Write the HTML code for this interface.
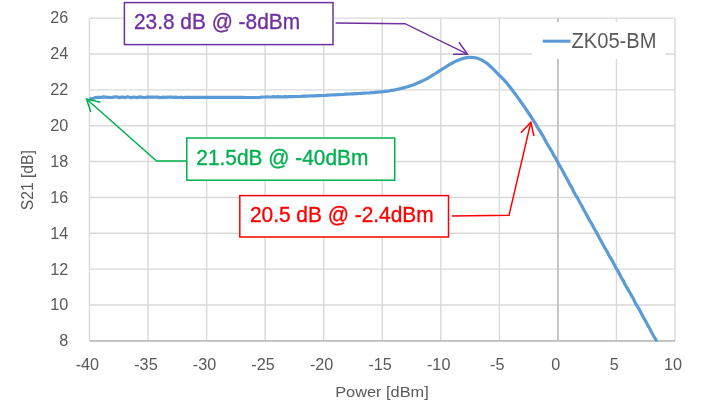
<!DOCTYPE html>
<html><head><meta charset="utf-8"><style>html,body{margin:0;padding:0;background:#fff;width:709px;height:417px;overflow:hidden}svg{display:block;will-change:transform}</style></head>
<body><svg width="709" height="417" viewBox="0 0 709 417"><rect x="0" y="0" width="709" height="417" fill="#fff"/><g stroke="#d9d9d9" stroke-width="1.4"><line x1="89.5" y1="340.90" x2="675.0" y2="340.90"/><line x1="89.5" y1="305.03" x2="675.0" y2="305.03"/><line x1="89.5" y1="269.17" x2="675.0" y2="269.17"/><line x1="89.5" y1="233.30" x2="675.0" y2="233.30"/><line x1="89.5" y1="197.43" x2="675.0" y2="197.43"/><line x1="89.5" y1="161.57" x2="675.0" y2="161.57"/><line x1="89.5" y1="125.70" x2="675.0" y2="125.70"/><line x1="89.5" y1="89.83" x2="675.0" y2="89.83"/><line x1="89.5" y1="53.97" x2="675.0" y2="53.97"/><line x1="89.5" y1="18.10" x2="675.0" y2="18.10"/><line x1="89.50" y1="18.1" x2="89.50" y2="340.9"/><line x1="148.05" y1="18.1" x2="148.05" y2="340.9"/><line x1="206.60" y1="18.1" x2="206.60" y2="340.9"/><line x1="265.15" y1="18.1" x2="265.15" y2="340.9"/><line x1="323.70" y1="18.1" x2="323.70" y2="340.9"/><line x1="382.25" y1="18.1" x2="382.25" y2="340.9"/><line x1="440.80" y1="18.1" x2="440.80" y2="340.9"/><line x1="499.35" y1="18.1" x2="499.35" y2="340.9"/><line x1="557.90" y1="18.1" x2="557.90" y2="340.9"/><line x1="616.45" y1="18.1" x2="616.45" y2="340.9"/><line x1="675.00" y1="18.1" x2="675.00" y2="340.9"/></g><line x1="557.90" y1="18.1" x2="557.90" y2="340.9" stroke="#bfbfbf" stroke-width="1.6"/><line x1="89.5" y1="340.9" x2="675.0" y2="340.9" stroke="#bfbfbf" stroke-width="1.6"/><g font-family="&quot;Liberation Sans&quot;, sans-serif" font-size="16.2" fill="#595959"><text x="68.3" y="346.30" text-anchor="end">8</text><text x="68.3" y="310.40" text-anchor="end">10</text><text x="68.3" y="274.50" text-anchor="end">12</text><text x="68.3" y="238.60" text-anchor="end">14</text><text x="68.3" y="202.70" text-anchor="end">16</text><text x="68.3" y="166.80" text-anchor="end">18</text><text x="68.3" y="130.90" text-anchor="end">20</text><text x="68.3" y="95.00" text-anchor="end">22</text><text x="68.3" y="59.10" text-anchor="end">24</text><text x="68.3" y="23.20" text-anchor="end">26</text><text x="87.40" y="370.3" text-anchor="middle">-40</text><text x="145.95" y="370.3" text-anchor="middle">-35</text><text x="204.50" y="370.3" text-anchor="middle">-30</text><text x="263.05" y="370.3" text-anchor="middle">-25</text><text x="321.60" y="370.3" text-anchor="middle">-20</text><text x="380.15" y="370.3" text-anchor="middle">-15</text><text x="438.70" y="370.3" text-anchor="middle">-10</text><text x="497.25" y="370.3" text-anchor="middle">-5</text><text x="555.80" y="370.3" text-anchor="middle">0</text><text x="614.35" y="370.3" text-anchor="middle">5</text><text x="672.90" y="370.3" text-anchor="middle">10</text></g><text font-family="&quot;Liberation Sans&quot;, sans-serif" font-size="14.8" fill="#595959" x="335.2" y="396.6" textLength="93.5" lengthAdjust="spacingAndGlyphs">Power [dBm]</text><text font-family="&quot;Liberation Sans&quot;, sans-serif" font-size="15.6" fill="#595959" transform="translate(33.2,210.2) rotate(-90)" x="0" y="0" textLength="60" lengthAdjust="spacingAndGlyphs">S21 [dB]</text><clipPath id="pc"><rect x="80" y="18.1" width="600" height="323.29999999999995"/></clipPath><path d="M89.5,99.2 L91.5,98.6 L93.5,98.2 L95.5,97.6 L97.5,97.4 L99.5,97.3 L101.5,97.3 L103.5,96.9 L105.5,97.1 L107.5,97.3 L109.5,97.4 L111.5,97.5 L113.5,97.1 L115.5,96.9 L117.5,97.0 L119.5,97.6 L121.5,97.0 L123.5,97.2 L125.5,97.6 L127.5,96.8 L129.5,97.3 L131.5,97.6 L133.5,97.0 L135.5,97.3 L137.5,97.6 L139.5,96.9 L141.5,97.2 L143.5,97.5 L145.5,97.4 L147.5,97.2 L149.5,97.0 L151.5,97.2 L153.5,97.1 L155.5,97.2 L157.5,97.1 L159.5,97.6 L161.5,97.5 L163.5,97.1 L165.5,97.3 L167.5,97.1 L169.5,97.2 L171.5,97.2 L173.5,97.4 L175.5,97.2 L177.5,97.3 L179.5,97.5 L181.5,97.2 L183.5,97.7 L185.5,97.3 L187.5,97.3 L189.5,97.3 L191.5,97.3 L193.5,97.3 L195.5,97.3 L197.5,97.3 L199.5,97.3 L201.5,97.3 L203.5,97.3 L205.5,97.4 L207.5,97.4 L209.5,97.4 L211.5,97.4 L213.5,97.4 L215.5,97.4 L217.5,97.4 L219.5,97.4 L221.5,97.4 L223.5,97.4 L225.5,97.4 L227.5,97.4 L229.5,97.4 L231.5,97.4 L233.5,97.4 L235.5,97.4 L237.5,97.4 L239.5,97.4 L241.5,97.4 L243.5,97.4 L245.5,97.5 L247.5,97.5 L249.5,97.5 L251.5,97.5 L253.5,97.5 L255.5,97.5 L257.5,97.5 L259.5,97.5 L261.5,97.1 L263.5,97.0 L265.5,97.0 L267.5,96.9 L269.5,97.0 L271.5,97.0 L273.5,96.6 L275.5,97.0 L277.5,96.7 L279.5,96.8 L281.5,96.9 L283.5,96.8 L285.5,96.6 L287.5,96.8 L289.5,96.5 L291.5,96.6 L293.5,96.7 L295.5,96.5 L297.5,96.5 L299.5,96.5 L301.5,96.3 L303.5,96.2 L305.5,96.1 L307.5,96.1 L309.5,96.0 L311.5,95.9 L313.5,95.9 L315.5,95.8 L317.5,95.7 L319.5,95.6 L321.5,95.6 L323.5,95.5 L325.5,95.4 L327.5,95.2 L329.5,95.1 L331.5,95.0 L333.5,94.9 L335.5,94.8 L337.5,94.7 L339.5,94.6 L341.5,94.5 L343.5,94.4 L345.5,94.2 L347.5,94.1 L349.5,94.0 L351.5,93.9 L353.5,93.8 L355.5,93.7 L357.5,93.6 L359.5,93.5 L361.5,93.3 L363.5,93.2 L365.5,93.1 L367.5,93.0 L369.5,92.9 L371.5,92.7 L373.5,92.6 L375.5,92.4 L377.5,92.2 L379.5,92.0 L381.5,91.8 L383.5,91.6 L385.5,91.3 L387.5,91.1 L389.5,90.8 L391.5,90.4 L393.5,90.1 L395.5,89.7 L397.5,89.3 L399.5,88.9 L401.5,88.4 L403.5,87.9 L405.5,87.3 L407.5,86.7 L409.5,86.1 L411.5,85.4 L413.5,84.7 L415.5,83.9 L417.5,83.1 L419.5,82.3 L421.5,81.3 L423.5,80.4 L425.5,79.4 L427.5,78.3 L429.5,77.1 L431.5,76.0 L433.5,74.7 L435.5,73.5 L437.5,72.2 L439.5,70.9 L441.5,69.6 L443.5,68.3 L445.5,67.1 L447.5,65.8 L449.5,64.6 L451.5,63.5 L453.5,62.4 L455.5,61.4 L457.5,60.5 L459.5,59.7 L461.5,59.0 L463.5,58.4 L465.5,57.9 L467.5,57.6 L469.5,57.4 L471.5,57.4 L473.5,57.5 L475.5,57.8 L477.5,58.3 L479.5,59.0 L481.5,59.9 L483.5,61.1 L485.5,62.3 L487.5,63.8 L489.5,65.5 L491.5,67.4 L493.5,69.3 L495.5,71.4 L497.5,73.5 L499.5,75.5 L501.5,77.4 L503.5,79.4 L505.5,81.6 L507.5,84.0 L509.5,86.5 L511.5,89.1 L513.5,91.7 L515.5,94.4 L517.5,97.1 L519.5,99.9 L521.5,102.7 L523.5,105.6 L525.5,108.5 L527.5,111.5 L529.5,114.5 L531.5,117.4 L533.5,120.8 L535.5,123.6 L537.5,127.4 L539.5,130.4 L541.5,133.7 L543.5,136.9 L545.5,140.7 L547.5,144.3 L549.5,147.6 L551.5,150.8 L553.5,154.8 L555.5,157.9 L557.5,161.9 L559.5,165.4 L561.5,168.8 L563.5,172.6 L565.5,176.3 L567.5,179.7 L569.5,183.8 L571.5,187.1 L573.5,191.2 L575.5,194.8 L577.5,197.9 L579.5,201.9 L581.5,205.3 L583.5,209.3 L585.5,212.8 L587.5,216.4 L589.5,220.3 L591.5,223.3 L593.5,227.3 L595.5,230.7 L597.5,234.1 L599.5,238.3 L601.5,241.7 L603.5,245.6 L605.5,249.0 L607.5,252.4 L609.5,256.4 L611.5,259.4 L613.5,263.0 L615.5,267.1 L617.5,270.4 L619.5,274.0 L621.5,278.0 L623.5,281.2 L625.5,285.2 L627.5,288.6 L629.5,292.0 L631.5,295.4 L633.5,299.1 L635.5,303.3 L637.5,306.5 L639.5,309.9 L641.5,313.7 L643.5,317.7 L645.5,320.8 L647.5,324.9 L649.5,328.1 L651.5,332.3 L653.5,335.7 L655.5,339.0 L657.5,343.3 L659.5,346.6 L661.5,350.5" fill="none" stroke="#5b9bd5" stroke-width="3.2" stroke-linejoin="round" clip-path="url(#pc)"/><rect x="532" y="22" width="133" height="37" fill="#fff"/><line x1="542.8" y1="41.2" x2="570.5" y2="41.2" stroke="#5b9bd5" stroke-width="3"/><text font-family="&quot;Liberation Sans&quot;, sans-serif" font-size="22" fill="#595959" x="571.5" y="48.3" textLength="85" lengthAdjust="spacingAndGlyphs">ZK05-BM</text><rect x="124.4" y="2.6" width="208.6" height="42" fill="#fff" stroke="#7030a0" stroke-width="1.5"/><text font-family="&quot;Liberation Sans&quot;, sans-serif" font-size="22.5" fill="#7030a0" stroke="#7030a0" stroke-width="0.35" x="134.0" y="29.2" textLength="166.0" lengthAdjust="spacingAndGlyphs">23.8 dB @ -8dBm</text><polyline points="335.6,23 405,23.7 467.5,54.2" fill="none" stroke="#7030a0" stroke-width="1.5"/><polyline points="459,42.2 467.5,54.2 453,54.2" fill="none" stroke="#7030a0" stroke-width="1.5"/><rect x="186.8" y="138" width="207.9" height="42.2" fill="#fff" stroke="#00b050" stroke-width="1.5"/><text font-family="&quot;Liberation Sans&quot;, sans-serif" font-size="22.5" fill="#00b050" stroke="#00b050" stroke-width="0.35" x="196.3" y="165.3" textLength="172.1" lengthAdjust="spacingAndGlyphs">21.5dB @ -40dBm</text><polyline points="186.4,161 156.6,161 86.5,99" fill="none" stroke="#00b050" stroke-width="1.5"/><polyline points="100.5,102.3 86.5,99 90.8,112" fill="none" stroke="#00b050" stroke-width="1.5"/><rect x="239.8" y="195.6" width="208.7" height="41.4" fill="#fff" stroke="#ff0000" stroke-width="1.5"/><text font-family="&quot;Liberation Sans&quot;, sans-serif" font-size="22.5" fill="#ff0000" stroke="#ff0000" stroke-width="0.35" x="249.9" y="222.1" textLength="183.8" lengthAdjust="spacingAndGlyphs">20.5 dB @ -2.4dBm</text><polyline points="451.8,216 509,215.3 530.8,122.3" fill="none" stroke="#ff0000" stroke-width="1.5"/><polyline points="521,132.7 530.8,122.3 534,136" fill="none" stroke="#ff0000" stroke-width="1.5"/></svg></body></html>
